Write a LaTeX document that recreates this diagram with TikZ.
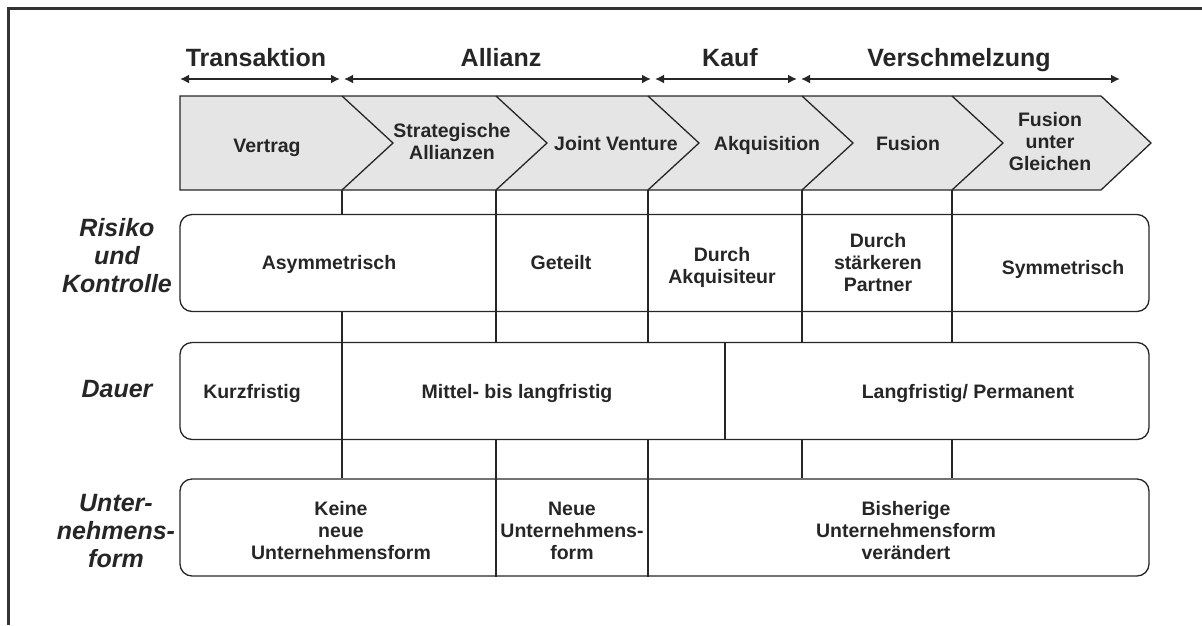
\documentclass[tikz,border=0pt]{standalone}
\usepackage{fontspec}
\setmainfont{Liberation Sans}
\usetikzlibrary{arrows.meta}

\begin{document}
\begin{tikzpicture}[x=1pt, y=-1pt, line width=1.3pt, color=black!85]
        \tikzstyle{every node}=[inner sep=0pt, align=center, font=\bfseries\fontsize{19.5}{22}\selectfont]
        \tikzstyle{band}=[draw, rounded corners=12pt, minimum width=969pt, minimum height=97pt]
        \tikzstyle{phase}=[anchor=base, font=\bfseries\fontsize{25}{30}\selectfont]
        \tikzstyle{rowlabel}=[font=\bfseries\itshape\fontsize{25}{28}\selectfont]
        \tikzstyle{span}=[line width=2.5pt, {Latex[length=9pt,width=9pt]}-{Latex[length=9pt,width=9pt]}]
        \useasboundingbox (0,0) rectangle (1202,625);
        \draw[line width=3pt, black!80] (8,625) -- (8,8.5) -- (1202,8.5);
        \coordinate (c1) at (342,0); \coordinate (c2) at (496,0); \coordinate (c3) at (648,0); \coordinate (c4) at (802,0); \coordinate (c5) at (952,0); \coordinate (d1) at (725,0);
        \coordinate (chevtop) at (0,96); \coordinate (chevbot) at (0,190);
        \coordinate (t0) at (180,79); \coordinate (t1) at (340,79); \coordinate (a0) at (344,79); \coordinate (a1) at (651,79); \coordinate (k0) at (655,79); \coordinate (k1) at (797,79); \coordinate (v0) at (801,79); \coordinate (v1) at (1120,79);
        \node[phase] (trans) at (256,66) {Transaktion};
        \node[phase] (allianz) at (501,66) {Allianz};
        \node[phase] (kauf) at (730,66) {Kauf};
        \node[phase] (versch) at (959,66) {Verschmelzung};
        \draw[span] (t0) -- (t1); \draw[span] (a0) -- (a1); \draw[span] (k0) -- (k1); \draw[span] (v0) -- (v1);
        \draw[fill=black!10] (180,96) -- (1101,96) -- (1151,143) -- (1101,190) -- (180,190) -- cycle;
        \foreach \i in {1,...,5} \draw (c\i |- chevtop) -- ++(51,47) -- (c\i |- chevbot);
        \node[anchor=base] (vertrag) at (267,152) {Vertrag};
        \node (strat) at (452,142) {Strategische\\Allianzen};
        \node[anchor=base] (jv) at (616,150) {Joint Venture};
        \node[anchor=base] (akq) at (767,150) {Akquisition};
        \node[anchor=base] (fusion) at (908,150) {Fusion};
        \node (fug) at (1050,142) {Fusion\\unter\\Gleichen};
        \node[band] (risk) at (664.5,263) {};
        \node[band] (dauer) at (664.5,391) {};
        \node[band] (form) at (664.5,527.5) {};
        \foreach \i in {1,...,5} {\draw (c\i |- chevbot) -- (c\i |- risk.north); \draw (c\i |- risk.south) -- (c\i |- dauer.north); \draw (c\i |- dauer.south) -- (c\i |- form.north);}
        \foreach \i in {2,...,5} \draw (c\i |- risk.north) -- (c\i |- risk.south);
        \draw (c1 |- dauer.north) -- (c1 |- dauer.south); \draw (d1 |- dauer.north) -- (d1 |- dauer.south);
        \draw (c2 |- form.north) -- (c2 |- form.south); \draw (c3 |- form.north) -- (c3 |- form.south);
        \node[rowlabel] (lrisk) at (117,256) {Risiko\\und\\Kontrolle};
        \node[rowlabel, anchor=base] (ldauer) at (117,397) {Dauer};
        \node[rowlabel] (lform) at (116,531) {Unter-\\nehmens-\\form};
        \node[anchor=base] (asym) at (329,269) {Asymmetrisch};
        \node[anchor=base] (geteilt) at (561,269) {Geteilt};
        \node (akqui) at (722,267) {Durch\\Akquisiteur};
        \node (partner) at (878,263) {Durch\\stärkeren\\Partner};
        \node[anchor=base] (sym) at (1063,274) {Symmetrisch};
        \node[anchor=base] (kurz) at (252,398) {Kurzfristig};
        \node[anchor=base] (mittel) at (517,398) {Mittel- bis langfristig};
        \node[anchor=base] (lang) at (968,398) {Langfristig/ Permanent};
        \node (keine) at (341,531) {Keine\\neue\\Unternehmensform};
        \node (neue) at (572,531) {Neue\\Unternehmens-\\form};
        \node (bisher) at (906,531) {Bisherige\\Unternehmensform\\verändert};
    \end{tikzpicture}
\end{document}
